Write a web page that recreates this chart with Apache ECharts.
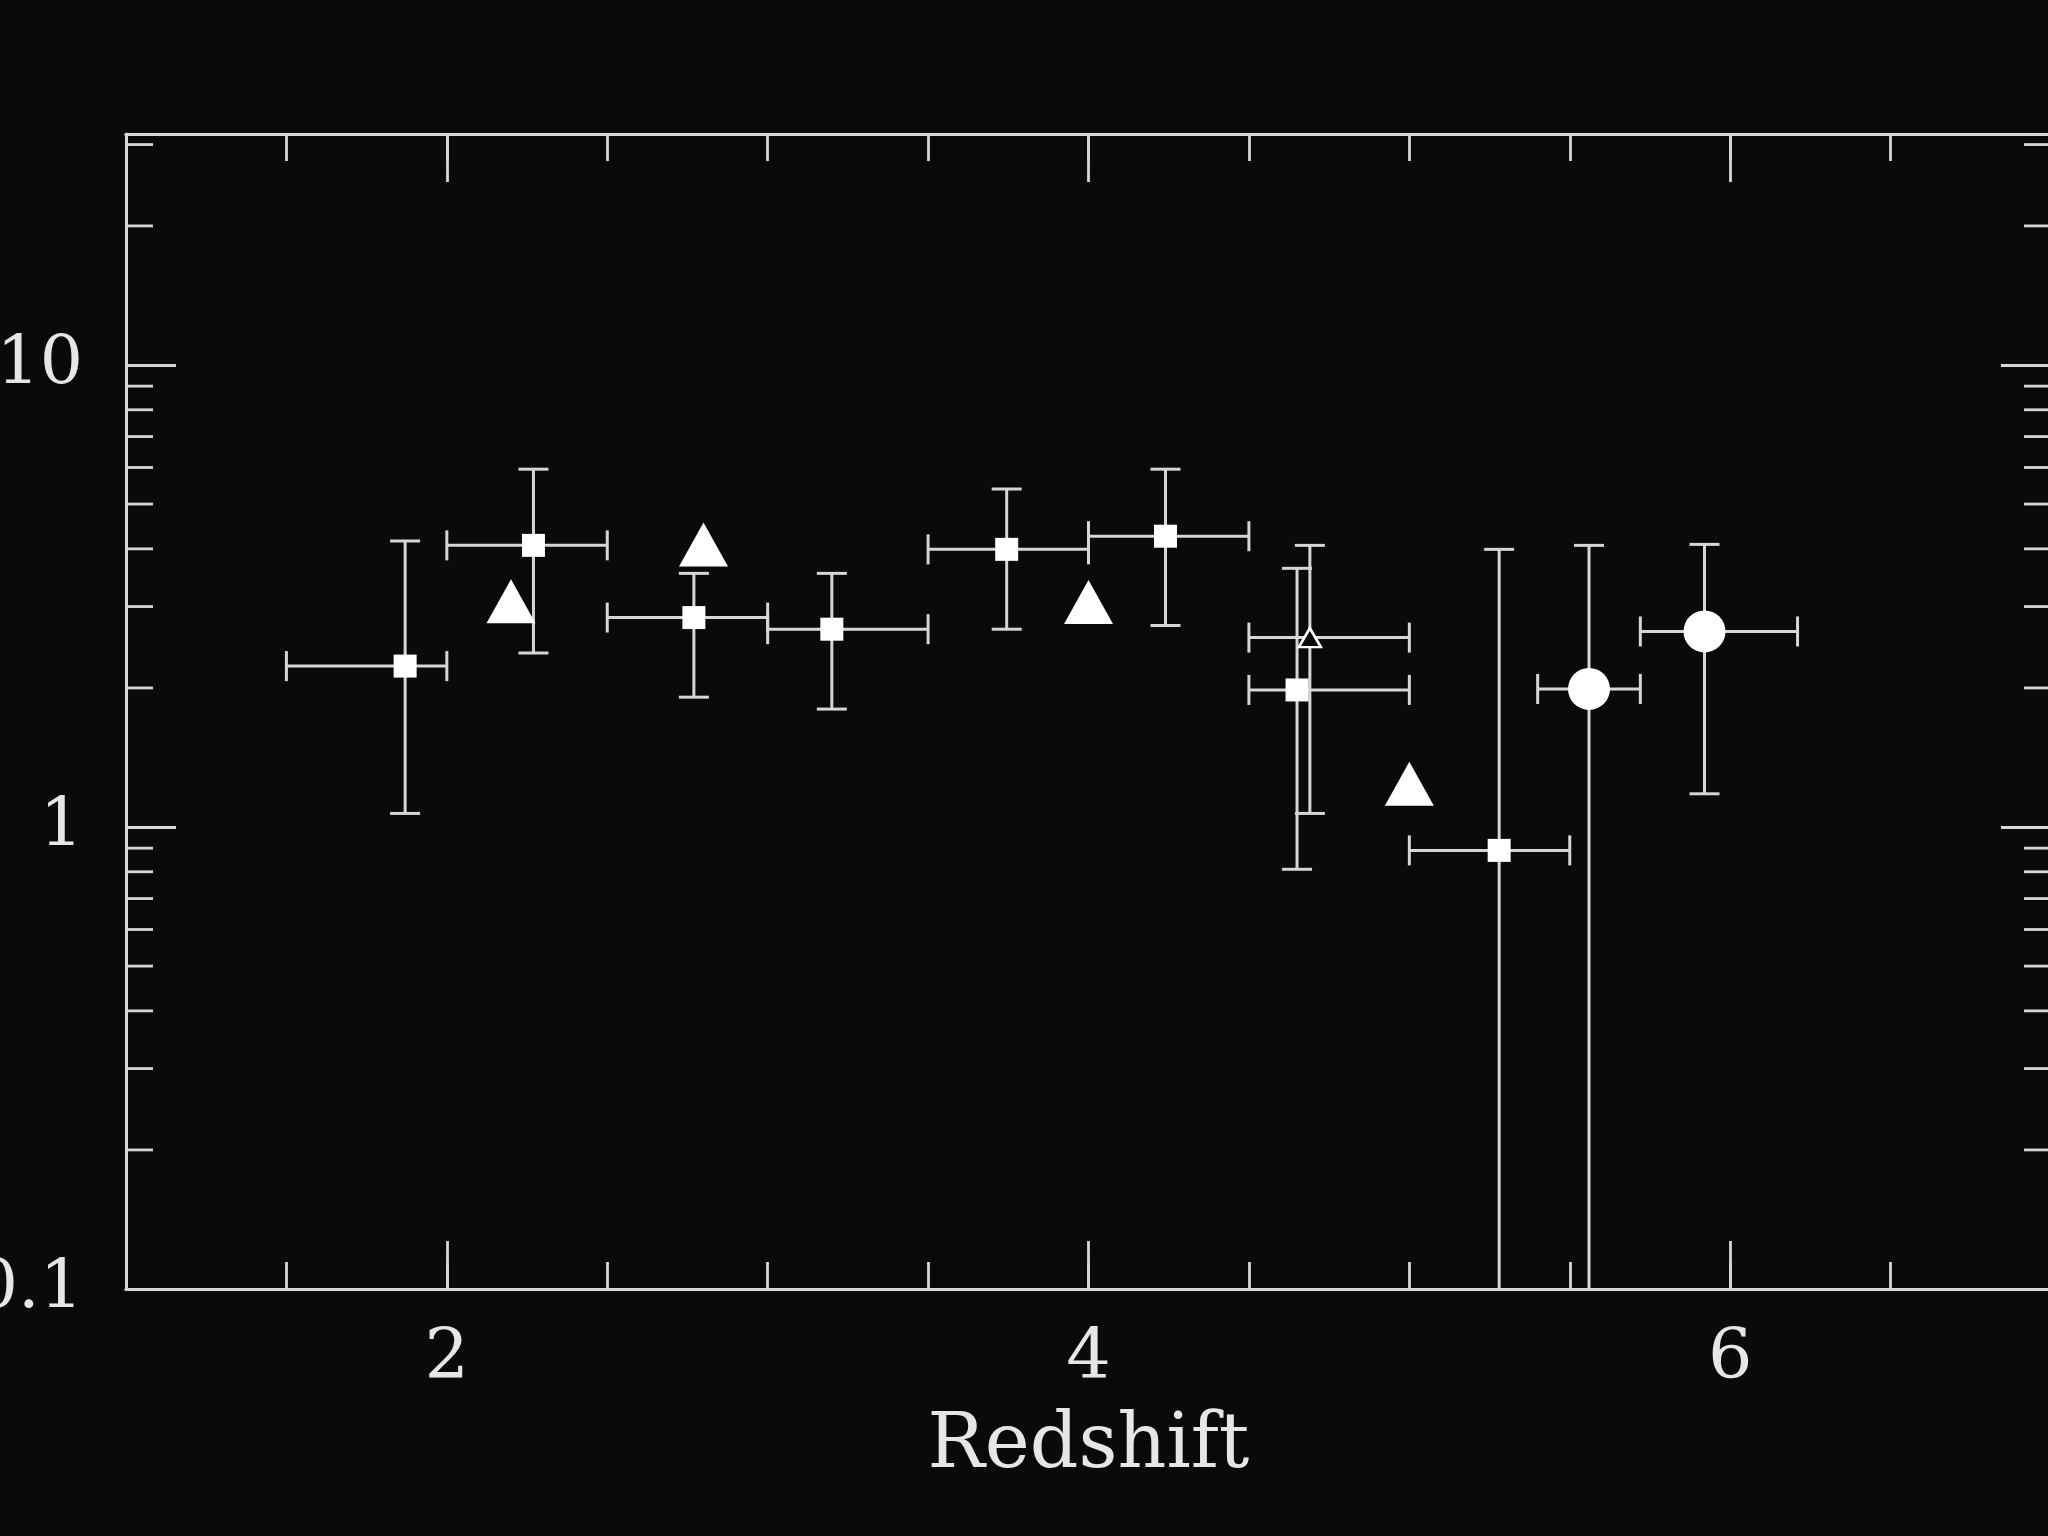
<!DOCTYPE html>
<html><head><meta charset="utf-8">
<script src="https://cdn.jsdelivr.net/npm/echarts@6/dist/echarts.min.js"></script>
<style>html,body{margin:0;padding:0;background:#0a0a0a;} #c{width:2048px;height:1536px;}</style>
</head><body><div id="c"></div>
<script>
// ---- axes ----
const xAxisMin = 1, xAxisMax = 7;
const yAxisMin = 0.1, yAxisMax = 31.6228;
const xMajorTicks = [2, 4, 6];
const xTickLabels = ['2', '4', '6'];
const yMajorTicks = [0.1, 1, 10];
const yTickLabels = ['0.1', '1', '10'];
const yMinorTicks = [0.2, 0.3, 0.4, 0.5, 0.6, 0.7, 0.8, 0.9, 2, 3, 4, 5, 6, 7, 8, 9, 20, 30];
const xAxisTitle = 'Redshift';

// ---- squares (with error bars) ----
const sqX    = [1.87, 2.27, 2.77, 3.20, 3.745, 4.24, 4.65, 5.28];
const sqY    = [2.23, 4.07, 2.84, 2.68, 3.99, 4.26, 1.98, 0.89];
const sqXlo  = [1.50, 2.00, 2.50, 3.00, 3.50, 4.00, 4.50, 5.00];
const sqXhi  = [2.00, 2.50, 3.00, 3.50, 4.00, 4.50, 5.00, 5.50];
const sqYlo  = [1.07, 2.38, 1.91, 1.80, 2.68, 2.73, 0.81, 0.05];
const sqYhi  = [4.16, 5.95, 3.54, 3.54, 5.39, 5.95, 3.63, 3.99];

// ---- filled triangles (no error bars) ----
const triX = [2.20, 2.80, 4.00, 5.00];
const triY = [3.08, 4.09, 3.07, 1.24];

// ---- open triangle (with error bars) ----
const otX = [4.69], otY = [2.57];
const otXlo = [4.50], otXhi = [5.00], otYlo = [1.07], otYhi = [4.07];

// ---- circles (with error bars) ----
const ciX   = [5.56, 5.92];
const ciY   = [1.99, 2.65];
const ciXlo = [5.40, 5.72];
const ciXhi = [5.72, 6.21];
const ciYlo = [0.05, 1.18];
const ciYhi = [4.07, 4.09];

const bg = '#0a0a0a';
const lineCol = '#d6d6d6';
const textCol = '#e6e6e6';
const font = 'DejaVu Serif';

function rows(xs, ys, xlo, xhi, ylo, yhi) {
  return xs.map((x, i) => [x, ys[i], xlo[i], xhi[i], ylo[i], yhi[i]]);
}
const errData = [].concat(
  rows(sqX, sqY, sqXlo, sqXhi, sqYlo, sqYhi),
  rows(otX, otY, otXlo, otXhi, otYlo, otYhi),
  rows(ciX, ciY, ciXlo, ciXhi, ciYlo, ciYhi)
);

const baseX = {
  type: 'value', min: xAxisMin, max: xAxisMax, splitLine: { show: false },
  axisLine: { show: true, onZero: false, lineStyle: { color: lineCol, width: 3 } }
};
const baseY = {
  type: 'log', logBase: 10, min: yAxisMin, max: yAxisMax, splitLine: { show: false },
  axisLine: { show: true, onZero: false, lineStyle: { color: lineCol, width: 3 } },
  axisTick: { inside: true, length: 50, lineStyle: { color: lineCol, width: 2.8 } }
};
const minorTickStyle = { inside: true, length: 27, lineStyle: { color: lineCol, width: 2.8 } };
const majorTickStyle = { inside: true, length: 48, lineStyle: { color: lineCol, width: 2.8 }, customValues: xMajorTicks };

function yLabel(v) {
  for (let i = 0; i < yMajorTicks.length; i++) {
    if (Math.abs(v - yMajorTicks[i]) < 1e-9 * Math.max(1, v)) return yTickLabels[i];
  }
  return '';
}

const option = {
  backgroundColor: bg,
  animation: false,
  grid: { left: 126, top: 134, width: 1925, bottom: 247, containLabel: false, outerBoundsMode: 'none' },
  xAxis: [
    Object.assign({}, baseX, {
      position: 'bottom', interval: 0.5, axisTick: minorTickStyle, axisLabel: { show: false },
      name: xAxisTitle, nameLocation: 'middle', nameGap: 120,
      nameTextStyle: { color: textCol, fontSize: 76, fontFamily: font }
    }),
    Object.assign({}, baseX, {
      position: 'bottom', axisTick: majorTickStyle,
      axisLabel: {
        customValues: xMajorTicks, margin: 36, color: textCol, fontSize: 70, fontFamily: font,
        formatter: v => xTickLabels[xMajorTicks.indexOf(v)]
      }
    }),
    Object.assign({}, baseX, { position: 'top', interval: 0.5, axisTick: minorTickStyle, axisLabel: { show: false } }),
    Object.assign({}, baseX, { position: 'top', axisTick: majorTickStyle, axisLabel: { show: false } })
  ],
  yAxis: [
    Object.assign({}, baseY, {
      position: 'left',
      axisLabel: { margin: 43, color: textCol, fontSize: 68, fontFamily: font, formatter: yLabel }
    }),
    Object.assign({}, baseY, { position: 'right', axisLabel: { show: false } })
  ],
  series: [
    {
      type: 'custom', xAxisIndex: 0, yAxisIndex: 0, silent: true,
      data: yMinorTicks.map(v => [xAxisMin, v]),
      encode: { x: 0, y: 1 },
      renderItem: function (params, api) {
        const v = api.value(1);
        const pL = api.coord([xAxisMin, v]);
        const pR = api.coord([xAxisMax, v]);
        const st = { stroke: lineCol, lineWidth: 2.8 };
        return { type: 'group', children: [
          { type: 'line', shape: { x1: pL[0], y1: pL[1], x2: pL[0] + 27, y2: pL[1] }, style: st },
          { type: 'line', shape: { x1: pR[0] - 27, y1: pR[1], x2: pR[0], y2: pR[1] }, style: st }
        ] };
      }
    },
    {
      type: 'custom', xAxisIndex: 0, yAxisIndex: 0, clip: true, silent: true,
      data: errData,
      encode: { x: [0, 2, 3], y: [1, 4, 5] },
      renderItem: function (params, api) {
        const x = api.value(0), y = api.value(1);
        const l = api.coord([api.value(2), y]);
        const r = api.coord([api.value(3), y]);
        const b = api.coord([x, api.value(4)]);
        const t = api.coord([x, api.value(5)]);
        const st = { stroke: lineCol, lineWidth: 3 };
        const cap = 15;
        const L = (x1, y1, x2, y2) => ({ type: 'line', shape: { x1, y1, x2, y2 }, style: st });
        return { type: 'group', children: [
          L(l[0], l[1], r[0], r[1]),
          L(t[0], t[1], b[0], b[1]),
          L(l[0], l[1] - cap, l[0], l[1] + cap),
          L(r[0], r[1] - cap, r[0], r[1] + cap),
          L(t[0] - cap, t[1], t[0] + cap, t[1]),
          L(b[0] - cap, b[1], b[0] + cap, b[1])
        ] };
      }
    },
    {
      type: 'scatter', symbol: 'rect', symbolSize: 23,
      itemStyle: { color: '#ffffff', opacity: 1 },
      data: sqX.map((x, i) => [x, sqY[i]])
    },
    {
      type: 'scatter', symbol: 'triangle', symbolSize: [49, 44],
      itemStyle: { color: '#ffffff', opacity: 1 },
      data: triX.map((x, i) => [x, triY[i]])
    },
    {
      type: 'scatter', symbol: 'triangle', symbolSize: [22, 19],
      itemStyle: { color: bg, borderColor: '#ffffff', borderWidth: 2.5, opacity: 1 },
      data: otX.map((x, i) => [x, otY[i]])
    },
    {
      type: 'scatter', symbol: 'circle', symbolSize: 42,
      itemStyle: { color: '#ffffff', opacity: 1 },
      data: ciX.map((x, i) => [x, ciY[i]])
    }
  ]
};

const chart = echarts.init(document.getElementById('c'), null, { renderer: 'canvas' });
chart.setOption(option);
</script>
</body></html>
